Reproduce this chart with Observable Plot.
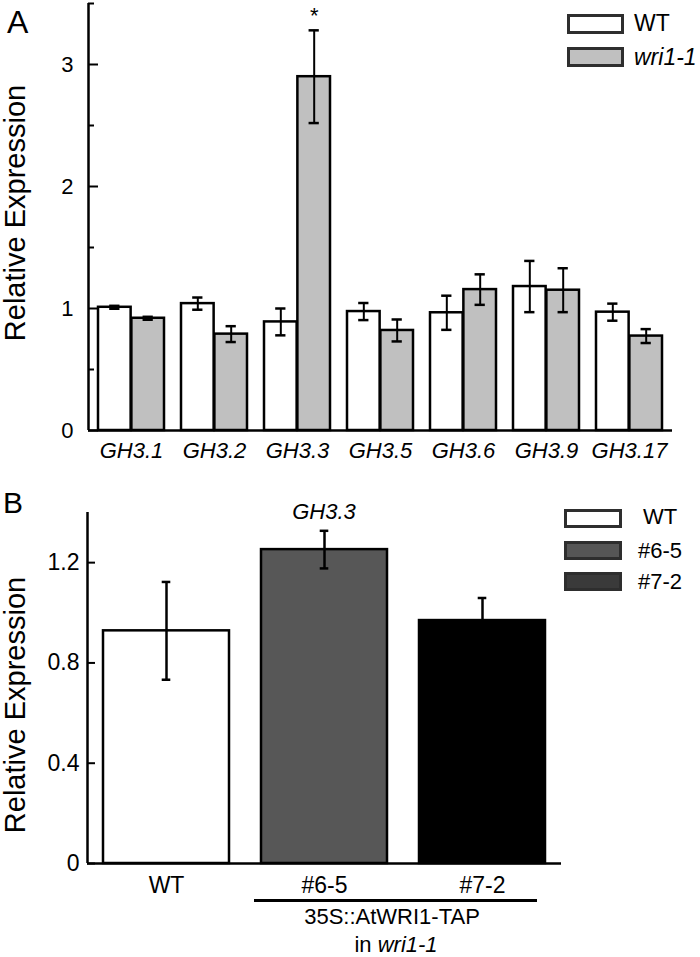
<!DOCTYPE html>
<html>
<head>
<meta charset="utf-8">
<script src="https://cdn.jsdelivr.net/npm/d3@7"></script>
<script src="https://cdn.jsdelivr.net/npm/@observablehq/plot@0.6"></script>
<style>
  html, body { margin: 0; padding: 0; background: white; }
  #wrap { position: relative; width: 700px; height: 957px; background: white; font-family: "Liberation Sans", Arial, sans-serif; color: black; overflow: hidden; }
  #wrap > svg, #wrap > figure { position: absolute; left: 0; margin: 0; }
  .lbl { position: absolute; white-space: nowrap; }
  .box { position: absolute; box-sizing: border-box; border: 3px solid #2e2e2e; }
</style>
</head>
<body>
<div id="wrap"></div>
<script>
// ---------- Data ----------
const genes = ["GH3.1", "GH3.2", "GH3.3", "GH3.5", "GH3.6", "GH3.9", "GH3.17"];
const wtMean = [1.01, 1.04, 0.89, 0.975, 0.965, 1.18, 0.97];
const wtErr = [0.012, 0.05, 0.11, 0.07, 0.14, 0.21, 0.07];
const wriMean = [0.92, 0.79, 2.90, 0.82, 1.155, 1.15, 0.774];
const wriErr = [0.012, 0.065, 0.38, 0.09, 0.125, 0.18, 0.057];
const sigGenes = ["GH3.3"];

const linesB = ["WT", "#6-5", "#7-2"];
const bMean = [0.928, 1.252, 0.969];
const bErr = [0.195, 0.075, 0.09];
const bFill = ["white", "#575757", "black"];

const ticksA = [0, 1, 2, 3];
const minorA = [0.5, 1.5, 2.5, 3.5];
const ticksB = [0, 0.4, 0.8, 1.2];

const wrap = document.getElementById("wrap");
const FONT = "'Liberation Sans', Arial, sans-serif";

function label(html, x, baseline, size, anchor = "start", extra = "") {
  const d = document.createElement("div");
  d.className = "lbl";
  d.innerHTML = html;
  const tx = anchor === "middle" ? "translateX(-50%)" : anchor === "end" ? "translateX(-100%)" : "none";
  d.style.cssText = `left:${x}px;top:${baseline - 0.8465 * size}px;font-size:${size}px;line-height:${size}px;transform:${tx};${extra}`;
  wrap.appendChild(d);
}
function vlabel(text, cx, cy, size) {
  const d = document.createElement("div");
  d.className = "lbl";
  d.textContent = text;
  d.style.cssText = `left:${cx}px;top:${cy}px;font-size:${size}px;line-height:${size}px;transform:translate(-50%,-50%) rotate(-90deg);`;
  wrap.appendChild(d);
}
function box(x, y, w, h, fill) {
  const d = document.createElement("div");
  d.className = "box";
  d.style.cssText = `left:${x}px;top:${y}px;width:${w}px;height:${h}px;background:${fill};`;
  wrap.appendChild(d);
}

// ---------- Panel A ----------
{
  const W = 700, H = 470, ml = 88, mr = 28, mt = 3, mb = 40;
  const frameW = W - ml - mr;
  const bw = d3.scaleBand(genes, [ml, W - mr]).paddingInner(0.2).paddingOuter(0.1).bandwidth();
  const wt = genes.map((g, i) => ({gene: g, mean: wtMean[i], err: wtErr[i]}));
  const wri = genes.map((g, i) => ({gene: g, mean: wriMean[i], err: wriErr[i]}));
  const sig = wri.filter(d => sigGenes.includes(d.gene));
  const cap = 5.5;
  const plotA = Plot.plot({
    width: W, height: H, marginLeft: ml, marginRight: mr, marginTop: mt, marginBottom: mb,
    style: {fontFamily: FONT, fontSize: "22px", color: "black", background: "white"},
    x: {domain: genes, paddingInner: 0.2, paddingOuter: 0.1},
    y: {domain: [0, 3.5], axis: null},
    marks: [
      Plot.barY(wt, {x: "gene", y: "mean", fill: "white", stroke: "black", strokeWidth: 2.5, insetRight: bw / 2}),
      Plot.barY(wri, {x: "gene", y: "mean", fill: "#c0c0c0", stroke: "black", strokeWidth: 2.5, insetLeft: bw / 2}),
      Plot.ruleX(wt, {x: "gene", y1: d => d.mean - d.err, y2: d => d.mean + d.err, dx: -bw / 4, strokeWidth: 2}),
      Plot.tickY(wt, {x: "gene", y: d => d.mean - d.err, insetLeft: bw / 4 - cap, insetRight: 3 * bw / 4 - cap, strokeWidth: 2.5}),
      Plot.tickY(wt, {x: "gene", y: d => d.mean + d.err, insetLeft: bw / 4 - cap, insetRight: 3 * bw / 4 - cap, strokeWidth: 2.5}),
      Plot.ruleX(wri, {x: "gene", y1: d => d.mean - d.err, y2: d => d.mean + d.err, dx: bw / 4, strokeWidth: 2}),
      Plot.tickY(wri, {x: "gene", y: d => d.mean - d.err, insetLeft: 3 * bw / 4 - cap, insetRight: bw / 4 - cap, strokeWidth: 2.5}),
      Plot.tickY(wri, {x: "gene", y: d => d.mean + d.err, insetLeft: 3 * bw / 4 - cap, insetRight: bw / 4 - cap, strokeWidth: 2.5}),
      Plot.text(sig, {x: "gene", y: d => d.mean + d.err, text: () => "*", dx: bw / 4, dy: -14, fontSize: 22}),
      // axes
      Plot.ruleY([0], {strokeWidth: 2.5}),
      Plot.ruleX([{lo: 0, hi: 3.5}], {x: null, y1: "lo", y2: "hi", dx: -frameW / 2, strokeWidth: 2.5}),
      Plot.ruleY(ticksA, {insetRight: frameW - 10, strokeWidth: 2}),
      Plot.ruleY(minorA, {insetRight: frameW - 6, strokeWidth: 2}),
      Plot.text(ticksA, {y: d => d, text: d => String(d), frameAnchor: "left", textAnchor: "end", dx: -15, fontSize: 22}),
      Plot.axisX({tickSize: 0, tickPadding: 12, label: null, fontSize: 22, fontStyle: "italic"})
    ]
  });
  plotA.style.position = "absolute";
  plotA.style.top = "0px";
  plotA.style.left = "0px";
  wrap.appendChild(plotA);
}

// ---------- Panel B ----------
{
  const W = 700, H = 487, ml = 87, mr = 139, mt = 42, mb = 94, top = 470;
  const frameW = W - ml - mr;
  const bw = d3.scaleBand(linesB, [ml, W - mr]).paddingInner(0.2).paddingOuter(0.1).bandwidth();
  const rows = linesB.map((l, i) => ({line: l, mean: bMean[i], err: bErr[i], fill: bFill[i]}));
  const cap = 4.5;
  const plotB = Plot.plot({
    width: W, height: H, marginLeft: ml, marginRight: mr, marginTop: mt, marginBottom: mb,
    style: {fontFamily: FONT, fontSize: "23px", color: "black", background: "white"},
    x: {domain: linesB, paddingInner: 0.2, paddingOuter: 0.1},
    y: {domain: [0, 1.4], axis: null},
    marks: [
      Plot.barY(rows, {x: "line", y: "mean", fill: "fill", stroke: "black", strokeWidth: 2.5}),
      Plot.ruleX(rows, {x: "line", y1: d => d.mean - d.err, y2: d => d.mean + d.err, strokeWidth: 2.5}),
      Plot.tickY(rows, {x: "line", y: d => d.mean - d.err, insetLeft: bw / 2 - cap, insetRight: bw / 2 - cap, strokeWidth: 2.5}),
      Plot.tickY(rows, {x: "line", y: d => d.mean + d.err, insetLeft: bw / 2 - cap, insetRight: bw / 2 - cap, strokeWidth: 2.5}),
      Plot.ruleY([0], {strokeWidth: 2.5}),
      Plot.ruleX([{lo: 0, hi: 1.4}], {x: null, y1: "lo", y2: "hi", dx: -frameW / 2, strokeWidth: 2.5}),
      Plot.ruleY(ticksB, {insetRight: frameW - 8, strokeWidth: 2}),
      Plot.text(ticksB, {y: d => d, text: d => String(d), frameAnchor: "left", textAnchor: "end", dx: -8, fontSize: 23}),
      Plot.axisX({tickSize: 0, tickPadding: 13, label: null, fontSize: 23})
    ]
  });
  plotB.style.position = "absolute";
  plotB.style.top = top + "px";
  plotB.style.left = "0px";
  wrap.appendChild(plotB);
}

// ---------- Annotations & legends ----------
label("A", 7, 33, 32);
label("B", 3, 513, 30);
vlabel("Relative Expression", 15, 213, 29);
vlabel("Relative Expression", 15, 705, 29);

// Legend A
box(567, 14, 57, 20, "white");
box(567, 47, 57, 20, "#c0c0c0");
label("WT", 634, 31, 23);
label("<i>wri1-1</i>", 634, 65, 23);

// Legend B
box(564, 509, 58, 19, "white");
box(564, 541, 58, 19, "#565656");
box(564, 572, 58, 19, "#3a3a3a");
label("WT", 643, 525, 22);
label("#6-5", 638, 559, 22);
label("#7-2", 638, 590, 22);

// Panel B annotations
label("<i>GH3.3</i>", 324, 520, 22, "middle");
const ln = document.createElement("div");
ln.style.cssText = "position:absolute;left:254px;top:899px;width:283px;height:2.5px;background:black;";
wrap.appendChild(ln);
label("35S::AtWRI1-TAP", 392, 925, 22, "middle");
label("in <i>wri1-1</i>", 396, 953, 22, "middle");
</script>
</body>
</html>
